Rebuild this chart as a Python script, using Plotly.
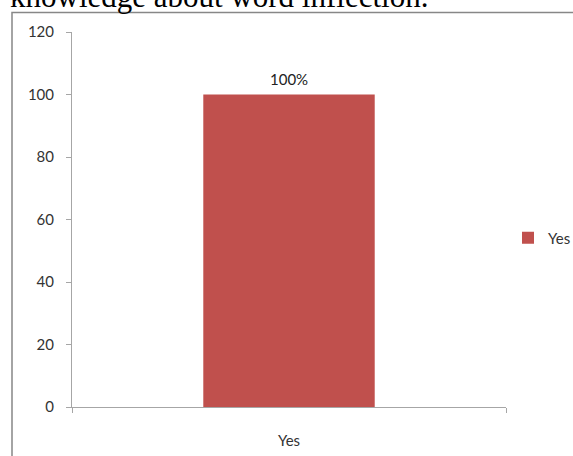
import plotly.graph_objects as go

# Survey result: share of respondents answering "Yes"
categories = ["Yes"]
values = [100]
series_name = "Yes"
y_ticks = [0, 20, 40, 60, 80, 100, 120]

W, H = 573, 456
L, R, T, B = 72, 67, 32, 49
plot_w, plot_h = W - L - R, H - T - B


def px_x(px):
    return (px - L) / plot_w


def px_y(py):
    return (H - B - py) / plot_h


bar_color = "#C0504D"
axis_color = "#A6A6A6"
label_font = dict(family="Lato, Noto Sans, sans-serif", size=15, color="#333333")

fig = go.Figure()
fig.add_trace(go.Bar(
    x=categories,
    y=values,
    name=series_name,
    marker=dict(color=bar_color, line=dict(width=0)),
    showlegend=True,
))

# value labels above the bars
for c, v in zip(categories, values):
    fig.add_annotation(
        x=c, y=v, text=f"{v}%", showarrow=False,
        yanchor="bottom", yshift=5,
        font=dict(family="Lato, Noto Sans, sans-serif", size=15, color="#222222"),
    )

# caption line above the chart frame
fig.add_annotation(
    xref="paper", yref="paper", x=px_x(8), y=px_y(16),
    xanchor="left", yanchor="bottom", showarrow=False,
    text="knowledge about word inflection.",
    font=dict(family="Liberation Serif, Times New Roman, serif", size=31, color="#000000"),
)

# chart frame
fig.add_shape(
    type="rect", xref="paper", yref="paper",
    x0=px_x(12), x1=px_x(640), y0=px_y(520), y1=px_y(12.5),
    line=dict(color="#878787", width=1.5), fillcolor="rgba(0,0,0,0)", layer="below",
)

fig.update_layout(
    width=W, height=H,
    margin=dict(l=L, r=R, t=T, b=B, autoexpand=False),
    paper_bgcolor="white", plot_bgcolor="white",
    bargap=0.605,
    showlegend=True,
    legend=dict(
        x=px_x(508), y=px_y(238), xanchor="left", yanchor="middle",
        font=label_font, bgcolor="rgba(0,0,0,0)",
        itemclick=False, itemdoubleclick=False,
    ),
    xaxis=dict(
        showline=True, linecolor=axis_color, linewidth=1,
        ticks="outside", tickson="boundaries", ticklen=5, tickcolor=axis_color,
        showgrid=False, zeroline=False,
        tickfont=label_font, ticklabelstandoff=20,
    ),
    yaxis=dict(
        range=[0, 120], tickvals=y_ticks,
        showline=True, linecolor=axis_color, linewidth=1,
        ticks="outside", ticklen=5, tickcolor=axis_color,
        showgrid=False, zeroline=False,
        tickfont=label_font, ticklabelstandoff=9,
    ),
)

fig.write_html("out.html")
